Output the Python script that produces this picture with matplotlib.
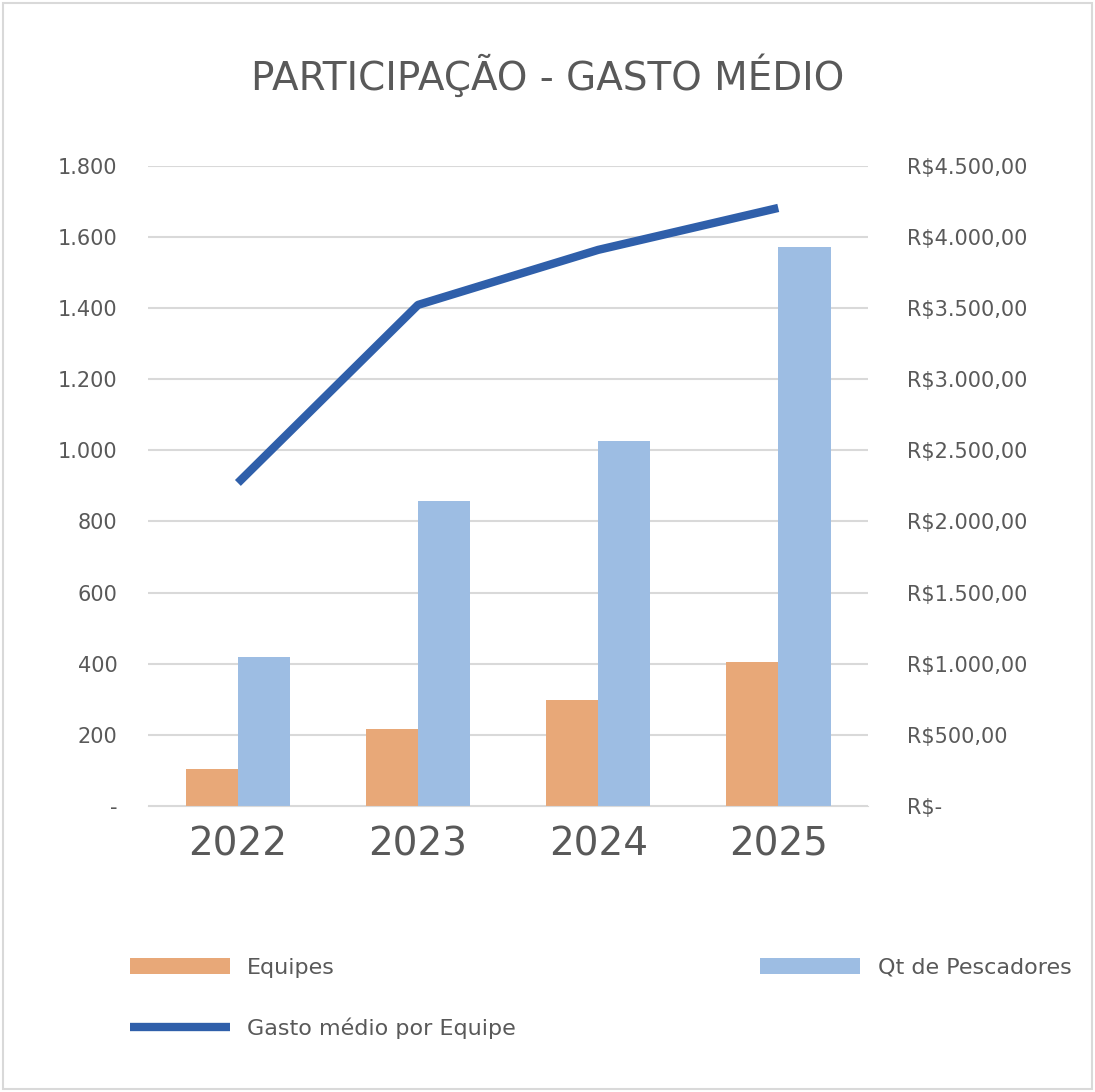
import matplotlib
matplotlib.use("Agg")
import matplotlib.pyplot as plt
from matplotlib.ticker import FuncFormatter
import numpy as np

years = ["2022", "2023", "2024", "2025"]
equipes = [104, 217, 298, 405]
pescadores = [419, 858, 1026, 1572]
gasto = [2271, 3523, 3910, 4205]

plt.rcParams['font.family'] = ['DejaVu Sans']
fig = plt.figure(figsize=(10.95, 10.92), dpi=100)
ax = fig.add_axes([0.135, 0.262, 0.658, 0.586])
ax2 = ax.twinx()
x = np.arange(len(years))
w = 0.29
ax.bar(x - w/2, equipes, w, color="#E8A878", label="Equipes", zorder=2)
ax.bar(x + w/2, pescadores, w, color="#9DBDE3", label="Qt de Pescadores", zorder=2)
ax2.plot(x, gasto, color="#2F5FAA", lw=6, label="Gasto médio por Equipe", solid_capstyle="butt")

ax.set_xlim(-0.5, 3.5)
ax.set_ylim(0, 1800)
ax2.set_ylim(0, 4500)
ax.set_yticks(range(0, 1801, 200))
ax.yaxis.set_major_formatter(FuncFormatter(lambda v, p: "-" if v == 0 else f"{int(v):,}".replace(",", ".")))
ax2.set_yticks(range(0, 4501, 500))
ax2.yaxis.set_major_formatter(FuncFormatter(lambda v, p: "R$-" if v == 0 else "R$" + f"{int(v):,}".replace(",", ".") + ",00"))
ax.grid(axis="y", color="#D9D9D9", lw=1.5, zorder=0)
ax.set_axisbelow(True)
for a in (ax, ax2):
    for s in a.spines.values():
        s.set_visible(False)
    a.tick_params(length=0, labelsize=15, colors="#595959")
ax.spines["bottom"].set_visible(True)
ax.spines["bottom"].set_color("#D9D9D9")
ax.set_xticks(x)
ax.set_xticklabels(years, fontsize=28, color="#595959")
ax.tick_params(axis="x", pad=14)
ax.tick_params(axis="y", pad=22)
ax2.tick_params(axis="y", pad=28)

fig.suptitle("PARTICIPAÇÃO - GASTO MÉDIO", y=0.95, fontsize=28, color="#595959")
h1, l1 = ax.get_legend_handles_labels()
h2, l2 = ax2.get_legend_handles_labels()
handles = [h1[0], h2[0], h1[1]]
labels = [l1[0], l2[0], l1[1]]
fig.legend(handles, labels, loc="lower left", bbox_to_anchor=(0.1, 0.03), ncol=2,
           frameon=False, fontsize=16, labelcolor="#595959", handlelength=4.5,
           columnspacing=11, labelspacing=1.8)
fig.patches.append(plt.Rectangle((0.003, 0.003), 0.994, 0.994, transform=fig.transFigure,
                                 fill=False, ec="#D9D9D9", lw=1.5))
fig.savefig("out.png", dpi=100)
